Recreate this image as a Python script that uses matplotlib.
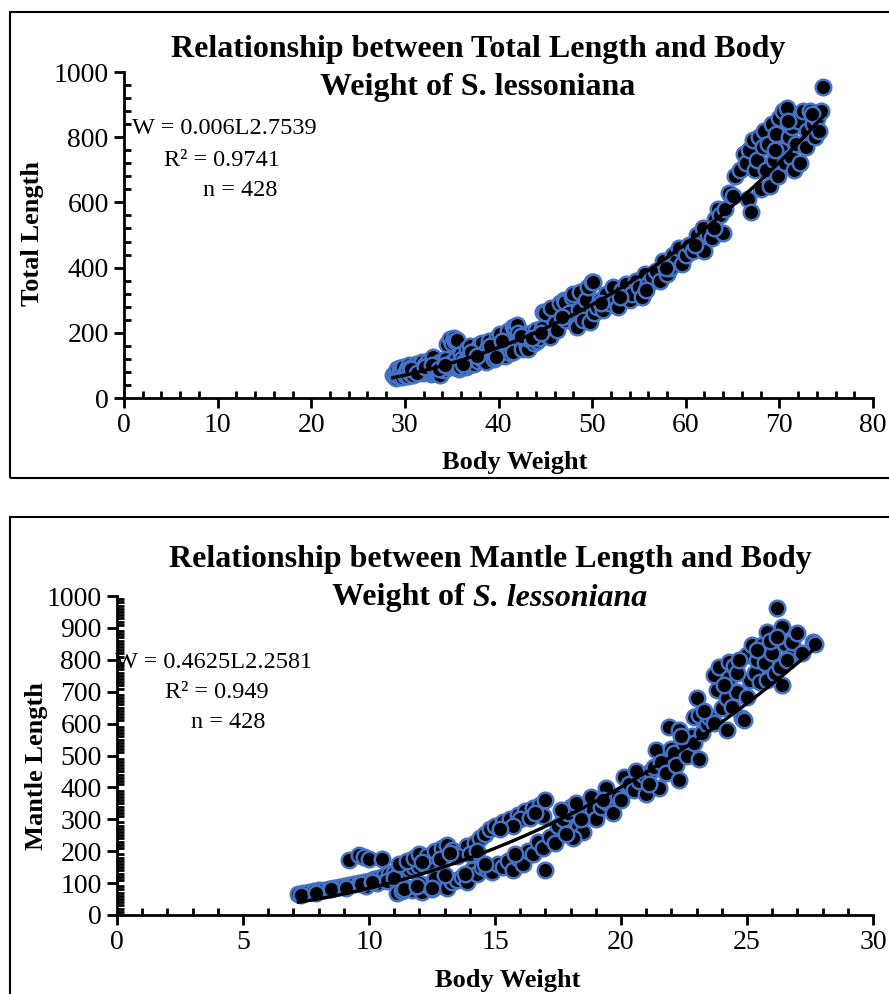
import matplotlib
matplotlib.use("Agg")
import matplotlib.pyplot as plt
import numpy as np
from matplotlib.patches import Rectangle
from matplotlib.ticker import MultipleLocator

plt.rcParams['font.family'] = ['Liberation Serif', 'DejaVu Serif']

# ---- Panel 1: Total Length vs Body Weight ----
tl_weight = [28.7, 28.9, 29.0, 29.0, 29.2, 29.3, 29.4, 29.5, 29.6, 29.7, 29.8, 30.0, 30.1, 30.2, 30.3,
             30.4, 30.5, 30.6, 30.8, 30.9, 31.0, 31.1, 31.2, 31.4, 31.5, 31.6, 31.8, 31.9, 32.0, 32.2,
             32.3, 32.5, 32.7, 32.8, 33.0, 33.0, 33.1, 33.2, 33.4, 33.5, 33.7, 33.8, 34.0, 34.1, 34.2,
             34.4, 34.5, 34.7, 34.8, 35.0, 35.0, 35.2, 35.2, 35.4, 35.5, 35.6, 35.6, 35.8, 35.9, 36.0,
             36.1, 36.3, 36.5, 36.6, 36.8, 36.9, 37.0, 37.3, 37.4, 37.5, 37.8, 38.0, 38.1, 38.2, 38.3,
             38.5, 38.7, 38.8, 39.0, 39.2, 39.4, 39.5, 39.8, 40.0, 40.1, 40.2, 40.5, 40.7, 40.8, 41.0,
             41.2, 41.2, 41.4, 41.5, 41.6, 41.8, 42.0, 42.1, 42.2, 42.5, 42.8, 43.0, 43.0, 43.2, 43.3,
             43.5, 43.8, 44.0, 44.1, 44.3, 44.6, 44.8, 45.0, 45.3, 45.5, 45.6, 46.0, 46.3, 46.6, 47.0,
             47.1, 47.2, 47.5, 47.8, 48.0, 48.3, 48.4, 48.6, 48.7, 49.0, 49.3, 49.6, 49.8, 50.0, 50.1,
             50.2, 50.5, 50.8, 51.2, 51.5, 51.8, 52.2, 52.5, 52.8, 53.2, 53.6, 54.0, 54.3, 54.7, 55.0,
             55.3, 55.6, 56.0, 56.4, 56.8, 57.2, 57.6, 58.0, 58.3, 58.6, 59.0, 59.3, 59.6, 60.0, 60.4,
             60.8, 61.2, 61.5, 61.8, 62.0, 62.4, 62.8, 63.1, 63.4, 63.7, 64.0, 64.2, 64.6, 65.0, 65.3,
             65.8, 66.2, 66.4, 66.6, 66.8, 67.0, 67.2, 67.4, 67.6, 67.8, 68.0, 68.2, 68.4, 68.6, 68.8,
             69.0, 69.2, 69.4, 69.6, 69.8, 70.0, 70.2, 70.4, 70.6, 70.8, 71.0, 71.2, 71.4, 71.6, 71.8,
             72.0, 72.2, 72.5, 72.8, 73.0, 73.3, 73.6, 73.8, 74.0, 74.2, 74.4, 74.7,
             30.7, 31.3, 32.1, 32.9, 33.6, 34.3, 36.2, 37.1, 37.7, 39.1, 39.7, 40.4, 42.4, 43.6,
             44.5, 46.8, 51.0, 53.0, 55.8, 57.9, 61.0, 63.0, 69.5, 70.9, 73.5]
tl_length = [71, 65, 60, 75, 88, 68, 70, 92, 82, 64, 95, 72, 80, 90, 68,
             100, 92, 78, 85, 72, 95, 82, 105, 80, 100, 90, 110, 78, 85, 100,
             92, 115, 105, 75, 125, 77, 82, 90, 98, 80, 110, 72, 105, 90, 85,
             120, 165, 95, 180, 170, 110, 185, 95, 175, 120, 178, 100, 90, 95, 135,
             120, 110, 95, 150, 100, 130, 160, 125, 105, 145, 115, 165, 140, 170, 117,
             130, 110, 150, 175, 150, 135, 120, 185, 140, 150, 195, 160, 130, 165, 205,
             175, 138, 155, 140, 218, 215, 225, 200, 180, 150, 195, 160, 163, 150, 180,
             200, 170, 210, 175, 185, 215, 264, 260, 190, 187, 275, 230, 210, 290, 300,
             294, 240, 260, 310, 320, 225, 218, 270, 325, 240, 300, 340, 233, 355, 356,
             260, 280, 300, 270, 320, 290, 340, 300, 280, 330, 350, 300, 320, 360, 340,
             310, 380, 350, 370, 390, 360, 420, 380, 400, 440, 420, 460, 410, 440, 470,
             450, 500, 480, 520, 450, 500, 490, 550, 580, 560, 505, 580, 630, 620, 680,
             700, 750, 720, 610, 760, 570, 790, 700, 730, 800, 640, 770, 820, 700, 780,
             650, 840, 730, 810, 680, 860, 760, 880, 720, 890, 800, 740, 830, 700, 780,
             850, 720, 880, 770, 820, 880, 840, 800, 860, 820, 880, 955,
             88, 78, 95, 100, 88, 100, 105, 140, 130, 160, 125, 175, 190, 185,
             200, 250, 290, 310, 330, 400, 470, 520, 760, 850, 870]

# ---- Panel 2: Mantle Length vs Body Weight ----
ml_weight = [7.2, 7.4, 7.6, 7.8, 8.0, 8.2, 8.4, 8.6, 8.8, 9.0, 9.2, 9.4, 9.6, 9.8, 10.0,
             10.2, 10.4, 10.6, 10.8, 11.0, 11.2, 11.4, 11.6, 11.8, 12.0, 12.2, 12.4,
             9.9, 10.3, 10.7, 11.0,
             9.2, 9.6, 9.8, 10.0, 10.5,
             11.2, 11.5, 11.8, 12.0, 12.3, 12.6, 12.9, 13.1, 13.3, 13.6, 13.9, 14.2, 14.4, 14.6, 14.8,
             15.0, 15.3, 15.6, 15.9, 16.2, 16.5, 16.8, 17.0, 16.0, 15.7, 16.4, 16.9, 12.1, 12.8, 13.5,
             14.0, 14.3,
             11.1, 11.3, 11.5, 11.7, 11.9, 12.1, 12.3, 12.5, 12.7, 12.9, 13.1, 13.3, 13.5, 13.7, 13.9,
             14.1, 14.3, 14.5, 14.7, 14.9, 15.1, 15.3, 15.5, 15.7, 15.9, 16.1, 16.3, 16.5, 16.7, 16.9,
             17.0, 17.2, 17.4, 12.0, 12.6, 13.0,
             17.5, 17.7, 17.9, 18.0, 18.2, 18.3, 18.5, 18.6, 18.8, 18.9, 19.0, 19.2, 19.4, 19.5, 19.7,
             19.9, 18.1, 17.8, 20.0,
             20.1, 20.3, 20.5, 20.7, 20.9, 21.0, 21.2, 21.3, 21.5, 21.4, 21.6, 21.8, 21.9, 22.0, 22.1,
             22.2, 22.3, 22.3, 22.5, 22.6, 22.8, 22.9, 22.9, 23.0, 23.1, 23.1, 23.2,
             23.4, 23.5, 23.7, 23.8, 23.7, 23.9, 24.0, 24.2, 24.2, 24.3, 24.3, 24.4, 24.5, 24.6, 24.8,
             24.9, 25.0, 25.0, 25.1, 25.2, 25.3, 25.4, 25.6, 25.5, 25.7, 25.8, 25.8, 26.0, 26.1, 26.2,
             26.3, 26.4, 26.4, 26.5, 26.7, 26.8, 27.0, 27.2, 27.6, 27.7, 24.6, 24.1, 25.9,
             7.3, 7.9, 8.5, 9.1, 9.7, 10.1, 11.4, 11.9, 12.5, 13.2, 13.8, 14.6, 15.2, 15.8, 16.6,
             17.6, 18.4, 19.3, 20.6, 21.1, 22.4, 23.3, 24.7, 25.4, 26.2, 26.6]
ml_length = [66, 68, 71, 74, 77, 79, 82, 85, 88, 91, 94, 98, 101, 105, 108,
             112, 116, 121, 127, 132, 136, 140, 145, 150, 155, 160, 166,
             92, 100, 108, 115,
             172, 188, 182, 175, 176,
             160, 170, 180, 190, 185, 200, 210, 220, 205, 195, 215, 225, 240, 255, 270,
             280, 290, 300, 315, 325, 335, 345, 360, 300, 280, 305, 310, 165, 175, 185,
             190, 200,
             70, 75, 85, 78, 88, 72, 95, 80, 90, 100, 85, 105, 110, 120, 105,
             140, 130, 150, 145, 135, 160, 150, 170, 140, 180, 160, 200, 190, 230, 210,
             140, 245, 225, 100, 115, 125,
             280, 300, 320, 340, 350, 276, 260, 310, 370, 330, 300, 340, 398, 350, 320,
             370, 240, 255, 360,
             433, 410, 392, 420, 439, 380, 450, 464, 398, 517, 480, 445, 590, 520, 508,
             470, 423, 580, 540, 500, 560, 539, 621, 680, 490, 627, 570,
             600, 621, 602, 705, 752, 777, 650, 580, 680, 742, 793, 652, 780, 700, 617,
             610, 683, 815, 737, 846, 760, 800, 846, 730, 790, 887, 737, 820, 760, 962,
             777, 903, 721, 850, 809, 856, 884, 820, 856, 850, 760, 720, 860,
             62, 70, 80, 86, 96, 104, 80, 92, 84, 195, 130, 160, 270, 190, 320,
             330, 300, 360, 450, 410, 560, 640, 800, 830, 870, 800]

W, H = 889, 994
fig = plt.figure(figsize=(W / 100, H / 100), dpi=100)


def fx(px):
    return px / W


def fy(py):
    return 1 - py / H


# panel frames
fig.patches.append(Rectangle((fx(10), fy(478)), fx(900) - fx(10), fy(12) - fy(478),
                             transform=fig.transFigure, fill=False, edgecolor='black', lw=1.5))
fig.patches.append(Rectangle((fx(10), fy(1000)), fx(900) - fx(10), fy(517) - fy(1000),
                             transform=fig.transFigure, fill=False, edgecolor='black', lw=1.5))

TITLE_FS = 23
TICK_FS = 20
NOTE_FS = 17.5
LABEL_FS = 19


def style_axes(ax):
    for s in ['top', 'right']:
        ax.spines[s].set_visible(False)
    for s in ['left', 'bottom']:
        ax.spines[s].set_linewidth(2.0)
    ax.tick_params(which='major', direction='out', length=7, width=2, labelsize=TICK_FS, pad=4)
    ax.tick_params(which='minor', direction='in', length=5, width=2)
    ax.set_facecolor('none')


def scatter_fit(ax, xs, ys, a, b):
    ax.scatter(xs, ys, s=125, c='black', edgecolors='#4472C4', linewidths=1.8, zorder=2,
               clip_on=False)
    xx = np.linspace(min(xs), max(xs), 200)
    ax.plot(xx, a * xx ** b, color='black', lw=2.4, zorder=3)


# ---- top chart ----
ax1 = fig.add_axes([fx(124), fy(398), fx(873) - fx(124), fy(72) - fy(398)])
scatter_fit(ax1, tl_weight, tl_length, 0.006, 2.7539)
ax1.set_xlim(0, 80)
ax1.set_ylim(0, 1000)
ax1.xaxis.set_major_locator(MultipleLocator(10))
ax1.xaxis.set_minor_locator(MultipleLocator(2))
ax1.yaxis.set_major_locator(MultipleLocator(200))
ax1.yaxis.set_minor_locator(MultipleLocator(40))
style_axes(ax1)

fig.text(fx(478), fy(50), 'Relationship between Total Length and Body', ha='center', va='center',
         fontsize=TITLE_FS, fontweight='bold')
fig.text(fx(478), fy(87), 'Weight of S. lessoniana', ha='center', va='center',
         fontsize=TITLE_FS, fontweight='bold')
fig.text(fx(224), fy(128), 'W = 0.006L2.7539', ha='center', va='center', fontsize=NOTE_FS)
fig.text(fx(222), fy(160), 'R² = 0.9741', ha='center', va='center', fontsize=NOTE_FS)
fig.text(fx(240), fy(190), 'n = 428', ha='center', va='center', fontsize=NOTE_FS)
fig.text(fx(32), fy(234), 'Total Length', rotation=90, ha='center', va='center',
         fontsize=LABEL_FS, fontweight='bold')
fig.text(fx(515), fy(462), 'Body Weight', ha='center', va='center', fontsize=LABEL_FS,
         fontweight='bold')

# ---- bottom chart ----
ax2 = fig.add_axes([fx(117), fy(915), fx(873) - fx(117), fy(596) - fy(915)])
scatter_fit(ax2, ml_weight, ml_length, 0.4625, 2.2581)
ax2.set_xlim(0, 30)
ax2.set_ylim(0, 1000)
ax2.xaxis.set_major_locator(MultipleLocator(5))
ax2.xaxis.set_minor_locator(MultipleLocator(1))
ax2.yaxis.set_major_locator(MultipleLocator(100))
ax2.yaxis.set_minor_locator(MultipleLocator(10))
style_axes(ax2)

fig.text(fx(490), fy(560), 'Relationship between Mantle Length and Body', ha='center', va='center',
         fontsize=TITLE_FS, fontweight='bold')
# second title line: plain bold + bold italic species name
fig.canvas.draw()
rend = fig.canvas.get_renderer()
t_a = fig.text(0, fy(598), 'Weight of ', ha='left', va='center', fontsize=TITLE_FS,
               fontweight='bold')
t_b = fig.text(0, fy(598), 'S. lessoniana', ha='left', va='center', fontsize=TITLE_FS,
               fontweight='bold', fontstyle='italic')
wa = t_a.get_window_extent(rend).width
wb = t_b.get_window_extent(rend).width
start = 490 - (wa + wb) / 2
t_a.set_x(fx(start))
t_b.set_x(fx(start + wa))

fig.text(fx(214), fy(662), 'W = 0.4625L2.2581', ha='center', va='center', fontsize=NOTE_FS)
fig.text(fx(217), fy(692), 'R² = 0.949', ha='center', va='center', fontsize=NOTE_FS)
fig.text(fx(228), fy(722), 'n = 428', ha='center', va='center', fontsize=NOTE_FS)
fig.text(fx(37), fy(766), 'Mantle Length', rotation=90, ha='center', va='center',
         fontsize=LABEL_FS, fontweight='bold')
fig.text(fx(508), fy(980), 'Body Weight', ha='center', va='center', fontsize=LABEL_FS,
         fontweight='bold')

fig.savefig('out.png', dpi=100)
